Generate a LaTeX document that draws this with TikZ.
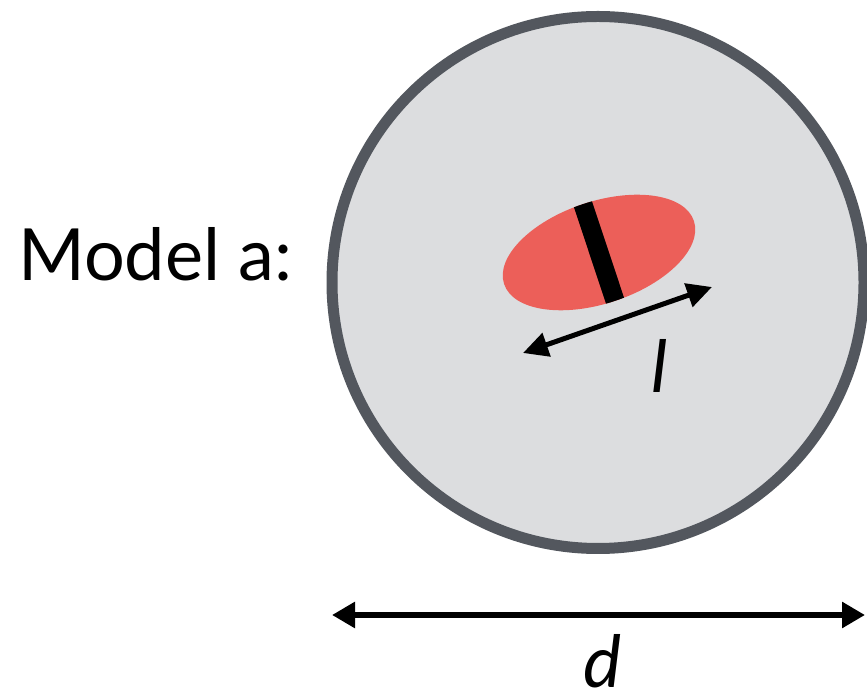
\documentclass[tikz,border=0pt]{standalone}
\usepackage{fontspec}
\setmainfont{Lato}
\usetikzlibrary{arrows.meta}
\definecolor{cellfill}{RGB}{220,221,223}
\definecolor{cellline}{RGB}{83,87,94}
\definecolor{nucred}{RGB}{236,95,89}
\tikzset{
  bigtext/.style={font=\fontsize{72}{86}\selectfont, inner sep=0pt},
  dimarrow/.style={line width=6pt, {Triangle[length=23pt,width=25pt]}-{Triangle[length=23pt,width=25pt]}},
  lenarrow/.style={line width=5pt, {Triangle[length=25pt,width=24pt]}-{Triangle[length=25pt,width=24pt]}},
}
\begin{document}
\begin{tikzpicture}[x=1pt,y=1pt]
\useasboundingbox (0,0) rectangle (867,696);
% cell
\draw[fill=cellfill, draw=cellline, line width=11pt] (598,413.5) circle (266);
% nucleus
\begin{scope}[shift={(599,443.5)}, rotate=18.4]
  \fill[nucred] (0,0) ellipse (100 and 51);
  \clip (0,0) ellipse (100 and 51);
  \fill[black] (-9.5,-60) rectangle (9.5,60);
\end{scope}
% label
\node[bigtext, anchor=base west] (model) at (18,415) {Model a:};
% length arrow
\coordinate (la) at (523,343);
\coordinate (lb) at (712,409);
\draw[lenarrow] (la) -- (lb);
\node[bigtext, anchor=base] (llab) at (660,303) {\itshape l};
% diameter arrow
\coordinate (da) at (332,81);
\coordinate (db) at (865,81);
\draw[dimarrow] (da) -- (db);
\node[bigtext, anchor=base] (dlab) at (603,9) {\itshape d};
\end{tikzpicture}
\end{document}
